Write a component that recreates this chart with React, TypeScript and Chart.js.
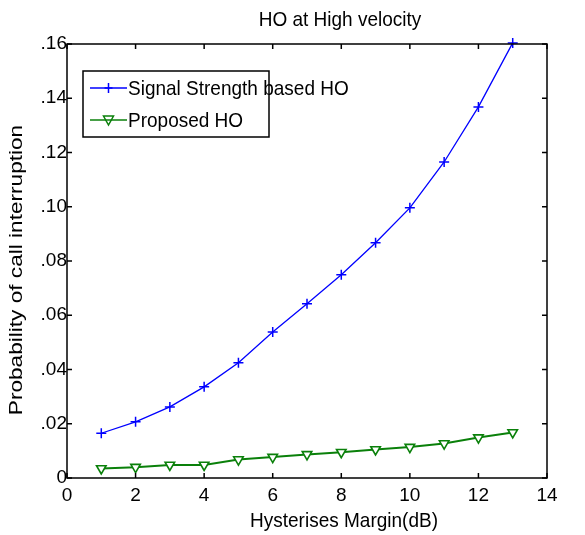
import React, { useEffect, useRef } from "react";
import { Chart, registerables } from "chart.js";

Chart.register(...registerables);

const margins = [1, 2, 3, 4, 5, 6, 7, 8, 9, 10, 11, 12, 13];
const signalStrengthHO = [0.0165, 0.0207, 0.0262, 0.0336, 0.0425, 0.0538, 0.0642, 0.0749, 0.0867, 0.0996, 0.1165, 0.1368, 0.1604];
const proposedHO = [0.0035, 0.004, 0.0048, 0.0048, 0.0068, 0.0077, 0.0087, 0.0095, 0.0105, 0.0114, 0.0127, 0.0149, 0.0168];
const seriesNames = ["Signal Strength based HO", "Proposed HO"];
const chartTitle = "HO at High velocity";
const xTitle = "Hysterises Margin(dB)";
const yTitle = "Probability of call interruption";

const FONT = "Liberation Sans, Arial, sans-serif";
const BLUE = "#0000ff";
const GREEN = "#0a800a";

function stretchedText(ctx: any, text: string, x: number, y: number, sy: number) {
  ctx.save();
  ctx.translate(x, y);
  ctx.scale(1, sy);
  ctx.fillText(text, 0, 0);
  ctx.restore();
}

const decorPlugin = {
  id: "decor",
  afterDraw(chart: any) {
    const { ctx, chartArea } = chart;
    const { left, right, top, bottom } = chartArea;
    const xs = chart.scales.x;
    const ys = chart.scales.y;
    ctx.save();
    ctx.strokeStyle = "#000";
    ctx.lineWidth = 1.5;
    ctx.strokeRect(left, top, right - left, bottom - top);
    const tl = 5;
    xs.ticks.forEach((t: any) => {
      const px = xs.getPixelForValue(t.value);
      ctx.beginPath();
      ctx.moveTo(px, bottom);
      ctx.lineTo(px, bottom - tl);
      ctx.moveTo(px, top);
      ctx.lineTo(px, top + tl);
      ctx.stroke();
    });
    ys.ticks.forEach((t: any) => {
      const py = ys.getPixelForValue(t.value);
      ctx.beginPath();
      ctx.moveTo(left, py);
      ctx.lineTo(left + tl, py);
      ctx.moveTo(right, py);
      ctx.lineTo(right - tl, py);
      ctx.stroke();
    });
    ctx.fillStyle = "#000";
    ctx.font = `19px ${FONT}`;
    ctx.textAlign = "center";
    ctx.textBaseline = "alphabetic";
    stretchedText(ctx, chartTitle, (left + right) / 2 + 33, top - 18, 1.1);
    stretchedText(ctx, xTitle, (left + right) / 2 + 37, bottom + 49, 1.1);
    // y title
    ctx.save();
    ctx.translate(17, (top + bottom) / 2 + 9);
    ctx.rotate(-Math.PI / 2);
    ctx.scale(1.19, 1);
    ctx.textBaseline = "middle";
    ctx.fillText(yTitle, 0, 0);
    ctx.restore();
    // legend
    const bx = left + 16;
    const by = top + 27;
    const bw = 186;
    const bh = 66;
    ctx.fillStyle = "#fff";
    ctx.fillRect(bx, by, bw, bh);
    ctx.textAlign = "left";
    ctx.textBaseline = "middle";
    const rows = [
      { name: seriesNames[0], color: BLUE, style: "cross" },
      { name: seriesNames[1], color: GREEN, style: "tri" },
    ];
    rows.forEach((r, i) => {
      const cy = by + 17 + i * 32;
      const x0 = bx + 7;
      const x1 = bx + 44;
      ctx.strokeStyle = r.color;
      ctx.lineWidth = 1.5;
      ctx.beginPath();
      ctx.moveTo(x0, cy);
      ctx.lineTo(x1, cy);
      ctx.stroke();
      const mx = (x0 + x1) / 2;
      ctx.beginPath();
      if (r.style === "cross") {
        ctx.moveTo(mx, cy - 5);
        ctx.lineTo(mx, cy + 5);
        ctx.moveTo(mx - 4, cy);
        ctx.lineTo(mx + 4, cy);
      } else {
        ctx.moveTo(mx - 5, cy - 4);
        ctx.lineTo(mx + 5, cy - 4);
        ctx.lineTo(mx, cy + 5);
        ctx.closePath();
      }
      ctx.stroke();
      ctx.fillStyle = "#000";
      stretchedText(ctx, r.name, x1 + 1, cy + 1, 1.1);
    });
    ctx.strokeStyle = "#000";
    ctx.lineWidth = 1.5;
    ctx.strokeRect(bx, by, bw, bh);
    ctx.restore();
  },
};

export default function App() {
  const ref = useRef<HTMLCanvasElement | null>(null);
  useEffect(() => {
    if (!ref.current) return;
    const chart = new Chart(ref.current, {
      type: "line",
      data: {
        datasets: [
          {
            label: seriesNames[0],
            data: margins.map((m, i) => ({ x: m, y: signalStrengthHO[i] })),
            borderColor: BLUE,
            backgroundColor: BLUE,
            borderWidth: 1.3,
            pointStyle: "cross",
            pointRadius: 5,
            pointBorderWidth: 1.5,
            pointBorderColor: BLUE,
            tension: 0,
          },
          {
            label: seriesNames[1],
            data: margins.map((m, i) => ({ x: m, y: proposedHO[i] })),
            borderColor: GREEN,
            backgroundColor: "rgba(0,0,0,0)",
            borderWidth: 2,
            pointStyle: "triangle",
            rotation: 180,
            pointRadius: 5.5,
            pointBorderWidth: 1.6,
            pointBorderColor: GREEN,
            pointBackgroundColor: "#fff",
            tension: 0,
          },
        ],
      },
      options: {
        responsive: false,
        animation: false,
        clip: false as any,
        layout: { padding: { left: 0, top: 44, right: 38, bottom: 0 } },
        plugins: { legend: { display: false }, tooltip: { enabled: false }, title: { display: false } },
        scales: {
          x: {
            type: "linear",
            min: 0,
            max: 14,
            grid: { display: false, drawTicks: false },
            border: { display: false },
            ticks: {
              stepSize: 2,
              padding: 6,
              color: "#000",
              font: { family: FONT, size: 19 },
              maxRotation: 0,
            },
            afterFit: (s: any) => {
              s.height = 57;
            },
          },
          y: {
            type: "linear",
            min: 0,
            max: 0.16,
            grid: { display: false, drawTicks: false },
            border: { display: false },
            ticks: {
              stepSize: 0.02,
              padding: 0,
              color: "#000",
              font: { family: FONT, size: 19 },
              callback: (v: any) => (Number(v) === 0 ? "0" : Number(v).toFixed(2).slice(1)),
            },
            afterFit: (s: any) => {
              s.width = 67;
            },
          },
        },
      },
      plugins: [decorPlugin],
    });
    return () => chart.destroy();
  }, []);
  return (
    <div style={{ position: "fixed", left: 0, top: 0, width: 585, height: 535, background: "#fff" }}>
      <canvas ref={ref} width={585} height={535} style={{ width: 585, height: 535, display: "block" }} />
    </div>
  );
}
